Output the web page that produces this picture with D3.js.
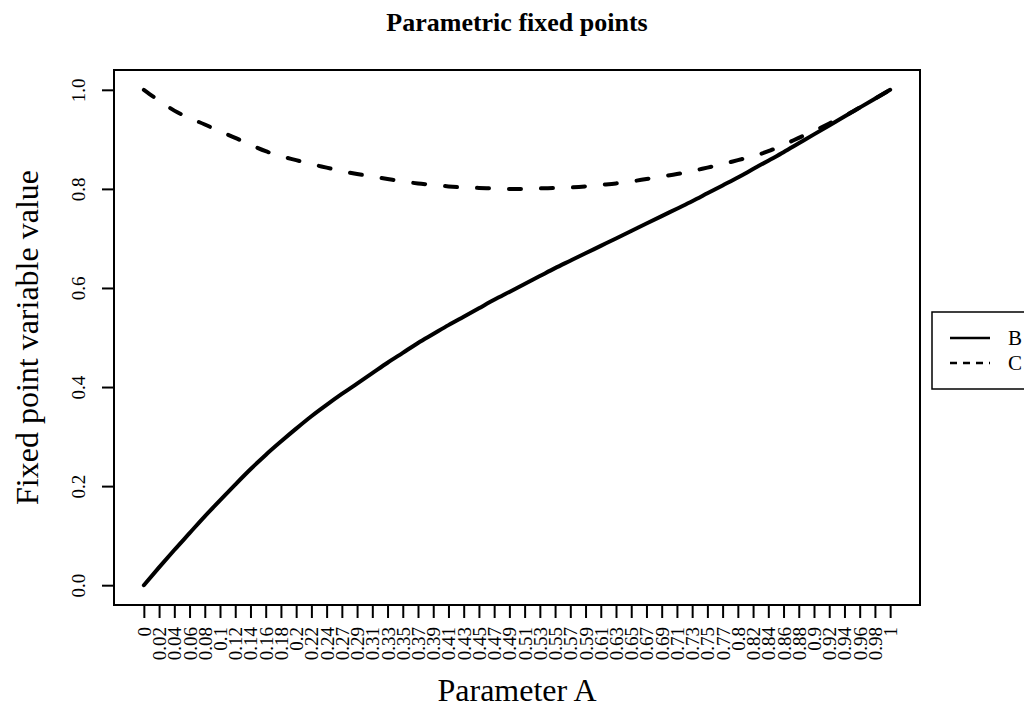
<!DOCTYPE html>
<html>
<head>
<meta charset="utf-8">
<script src="https://cdn.jsdelivr.net/npm/d3@7"></script>
<style>
  body { margin: 0; background: #fff; }
  text { font-family: "Liberation Serif", "DejaVu Serif", serif; fill: #000; }
</style>
</head>
<body>
<div id="chart"></div>
<script>
// data
var paramLabels = ["0","0.02","0.04","0.06","0.08","0.1","0.12","0.14","0.16","0.18",
  "0.2","0.22","0.24","0.27","0.29","0.31","0.33","0.35","0.37","0.39",
  "0.41","0.43","0.45","0.47","0.49","0.51","0.53","0.55","0.57","0.59",
  "0.61","0.63","0.65","0.67","0.69","0.71","0.73","0.75","0.77","0.8",
  "0.82","0.84","0.86","0.88","0.9","0.92","0.94","0.96","0.98","1"];

var seriesB = [0, 0.036, 0.071, 0.105, 0.139, 0.171, 0.203, 0.234, 0.263, 0.290,
  0.316, 0.341, 0.364, 0.386, 0.407, 0.428, 0.449, 0.469, 0.489, 0.507,
  0.525, 0.542, 0.559, 0.576, 0.592, 0.608, 0.624, 0.640, 0.655, 0.670,
  0.685, 0.700, 0.715, 0.730, 0.745, 0.760, 0.775, 0.791, 0.807, 0.823,
  0.840, 0.857, 0.874, 0.892, 0.910, 0.928, 0.946, 0.964, 0.982, 1.0];

var seriesC = [1.0, 0.978, 0.958, 0.943, 0.930, 0.916, 0.903, 0.889, 0.876, 0.866,
  0.858, 0.850, 0.843, 0.836, 0.830, 0.825, 0.820, 0.815, 0.811, 0.808,
  0.805, 0.803, 0.802, 0.801, 0.800, 0.800, 0.801, 0.802, 0.803, 0.805,
  0.808, 0.811, 0.815, 0.820, 0.825, 0.830, 0.836, 0.843, 0.850, 0.858,
  0.866, 0.876, 0.889, 0.903, 0.917, 0.932, 0.947, 0.964, 0.982, 1.0];

var yTicks = [0, 0.2, 0.4, 0.6, 0.8, 1.0];
var seriesNames = ["B", "C"];

// settings
var W = 1024, H = 707;
var box = {left: 114, right: 920, top: 70, bottom: 605};
var n = paramLabels.length;

var svg = d3.select("#chart").append("svg")
    .attr("width", W)
    .attr("height", H);

var x = d3.scaleLinear()
    .domain([-(n - 1) * 0.04, (n - 1) * 1.04])
    .range([box.left, box.right]);

var y = d3.scaleLinear()
    .domain([-0.04, 1.04])
    .range([box.bottom, box.top]);

// x axis
var xAxis = svg.append("g")
    .attr("transform", "translate(0," + box.bottom + ")")
    .call(d3.axisBottom(x)
        .tickValues(d3.range(n))
        .tickFormat(function(d) { return paramLabels[d]; })
        .tickSize(13));
xAxis.select(".domain")
    .attr("d", "M" + x(0) + ",0H" + x(n - 1))
    .attr("stroke-width", 2);
xAxis.selectAll(".tick line").attr("stroke-width", 2);
xAxis.selectAll(".tick text")
    .attr("font-size", 19)
    .attr("font-family", "Liberation Serif")
    .attr("text-anchor", "end")
    .attr("dy", "0.34em")
    .attr("transform", "translate(0,22) rotate(-90)")
    .attr("x", 0)
    .attr("y", 0);

// y axis
var yAxis = svg.append("g")
    .attr("transform", "translate(" + box.left + ",0)")
    .call(d3.axisLeft(y)
        .tickValues(yTicks)
        .tickFormat(d3.format(".1f"))
        .tickSize(12));
yAxis.select(".domain")
    .attr("d", "M0," + y(0) + "V" + y(1))
    .attr("stroke-width", 2);
yAxis.selectAll(".tick line").attr("stroke-width", 2);
yAxis.selectAll(".tick text")
    .attr("font-size", 19)
    .attr("font-family", "Liberation Serif")
    .attr("text-anchor", "middle")
    .attr("x", 0)
    .attr("dy", 0)
    .attr("transform", "translate(-29,0) rotate(-90)");

// plot box
svg.append("rect")
    .attr("x", box.left)
    .attr("y", box.top)
    .attr("width", box.right - box.left)
    .attr("height", box.bottom - box.top)
    .attr("fill", "none")
    .attr("stroke", "#000")
    .attr("stroke-width", 2);

// lines
var line = function(vals) {
  return d3.line()
    .x(function(d, i) { return x(i); })
    .y(function(d) { return y(d); })
    .curve(d3.curveMonotoneX)(vals);
};

svg.append("path")
    .attr("d", line(seriesC))
    .attr("fill", "none")
    .attr("stroke", "#000")
    .attr("stroke-width", 4)
    .attr("stroke-linecap", "round")
    .attr("stroke-dasharray", "12,20");

svg.append("path")
    .attr("d", line(seriesB))
    .attr("fill", "none")
    .attr("stroke", "#000")
    .attr("stroke-width", 4)
    .attr("stroke-linecap", "round");

// titles
svg.append("text")
    .attr("x", (box.left + box.right) / 2)
    .attr("y", 31)
    .attr("text-anchor", "middle")
    .attr("font-size", 26)
    .attr("font-weight", "bold")
    .text("Parametric fixed points");

svg.append("text")
    .attr("x", (box.left + box.right) / 2)
    .attr("y", 701)
    .attr("text-anchor", "middle")
    .attr("font-size", 32)
    .text("Parameter A");

svg.append("text")
    .attr("transform", "translate(38," + ((box.top + box.bottom) / 2) + ") rotate(-90)")
    .attr("text-anchor", "middle")
    .attr("font-size", 32)
    .text("Fixed point variable value");

// legend
var lg = svg.append("g").attr("transform", "translate(932,312)");
lg.append("rect")
    .attr("width", 130)
    .attr("height", 77)
    .attr("fill", "#fff")
    .attr("stroke", "#000")
    .attr("stroke-width", 1.5);
seriesNames.forEach(function(name, i) {
  var ly = 26 + i * 25;
  lg.append("line")
    .attr("x1", 18).attr("x2", 58)
    .attr("y1", ly).attr("y2", ly)
    .attr("stroke", "#000")
    .attr("stroke-width", 2.5)
    .attr("stroke-dasharray", i == 0 ? null : "7,6");
  lg.append("text")
    .attr("x", 76)
    .attr("y", ly + 7)
    .attr("font-size", 21)
    .text(name);
});
</script>
</body>
</html>
